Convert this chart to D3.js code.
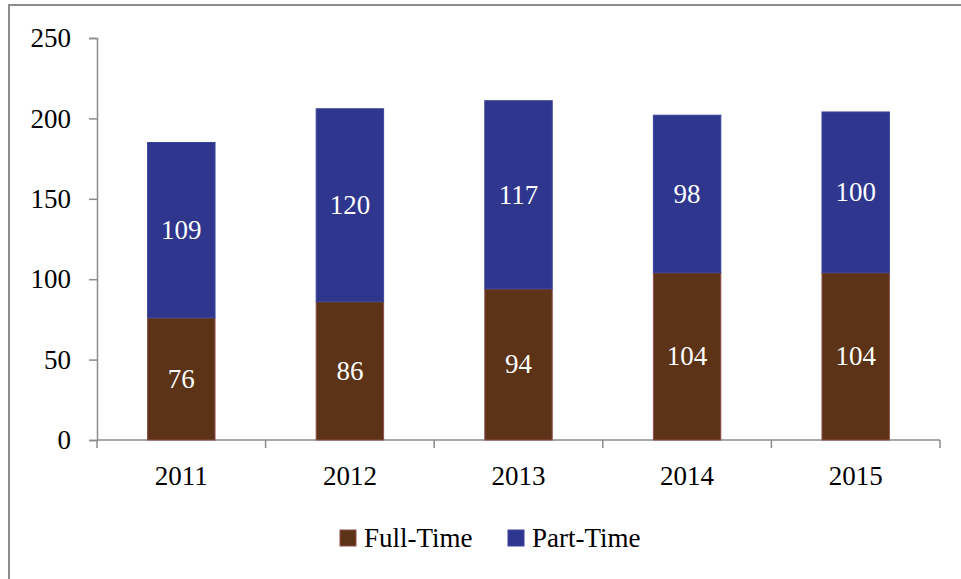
<!DOCTYPE html>
<html>
<head>
<meta charset="utf-8">
<script src="https://cdn.jsdelivr.net/npm/d3@7"></script>
<style>
  body { margin: 0; background: #fff; }
</style>
</head>
<body>
<div id="chart"></div>
<script>
// data
var years = ['2011', '2012', '2013', '2014', '2015'];
var fullTime = [76, 86, 94, 104, 104];
var partTime = [109, 120, 117, 98, 100];
var seriesNames = ['Full-Time', 'Part-Time'];
var seriesColors = ['#5C3317', '#2E368E'];
var seriesStroke = ['#8E4F4A', '#3A4399'];
var yTicks = [0, 50, 100, 150, 200, 250];

var width = 961, height = 579;
var plot = {left: 97, right: 940, top: 38, bottom: 440};
var fontFam = "'Liberation Serif', 'DejaVu Serif', serif";

var svg = d3.select("#chart")
    .append("svg")
    .attr("width", width)
    .attr("height", height)
    .style("font-family", fontFam);

// outer frame
svg.append("rect")
    .attr("x", 9).attr("y", 5)
    .attr("width", 965).attr("height", 590)
    .style("fill", "none")
    .style("stroke", "#8c8c8c")
    .style("stroke-width", 2);

var x = d3.scaleBand()
    .domain(years)
    .range([plot.left, plot.right])
    .paddingInner(0.6)
    .paddingOuter(0.3);

var y = d3.scaleLinear()
    .domain([0, 250])
    .range([plot.bottom, plot.top]);

// y axis
var yAxis = svg.append("g")
    .attr("transform", "translate(" + plot.left + ",0)")
    .call(d3.axisLeft(y).tickValues(yTicks).tickSize(8).tickPadding(18));
yAxis.attr("font-family", null).attr("font-size", null);
yAxis.selectAll("text").style("font-size", "27px").style("font-family", fontFam).style("fill", "#000");
yAxis.selectAll("line, path").style("stroke", "#8c8c8c").style("stroke-width", 1.5);

// x axis: ticks at band boundaries
var xLine = svg.append("g");
xLine.append("line")
    .attr("x1", plot.left).attr("x2", plot.right)
    .attr("y1", plot.bottom).attr("y2", plot.bottom)
    .style("stroke", "#8c8c8c").style("stroke-width", 1.5);
var step = (plot.right - plot.left) / years.length;
xLine.selectAll("line.tk")
    .data(d3.range(years.length + 1))
    .enter()
    .append("line")
    .attr("class", "tk")
    .attr("x1", function(d){return plot.left + d * step;})
    .attr("x2", function(d){return plot.left + d * step;})
    .attr("y1", plot.bottom)
    .attr("y2", plot.bottom + 8)
    .style("stroke", "#8c8c8c").style("stroke-width", 1.5);
xLine.selectAll("text")
    .data(years)
    .enter()
    .append("text")
    .attr("x", function(d){return x(d) + x.bandwidth() / 2;})
    .attr("y", 485)
    .attr("text-anchor", "middle")
    .style("font-size", "27px")
    .style("font-family", fontFam)
    .text(function(d){return d;});

// stacked bars
var rows = years.map(function(yr, i){ return {year: yr, 'Full-Time': fullTime[i], 'Part-Time': partTime[i]}; });
var stacked = d3.stack().keys(seriesNames)(rows);

stacked.forEach(function(layer, li) {
    var g = svg.append("g");
    g.selectAll("rect")
        .data(layer)
        .enter()
        .append("rect")
        .attr("x", function(d){return x(d.data.year);})
        .attr("y", function(d){return y(d[1]);})
        .attr("width", x.bandwidth())
        .attr("height", function(d){return y(d[0]) - y(d[1]);})
        .style("fill", seriesColors[li])
        .style("stroke", seriesStroke[li])
        .style("stroke-width", 1);
    g.selectAll("text")
        .data(layer)
        .enter()
        .append("text")
        .attr("x", function(d){return x(d.data.year) + x.bandwidth() / 2;})
        .attr("y", function(d){return (y(d[0]) + y(d[1])) / 2 + 9;})
        .attr("text-anchor", "middle")
        .style("font-size", "27px")
        .style("font-family", fontFam)
        .style("fill", "#fff")
        .text(function(d){return d[1] - d[0];});
});

// legend
var legendX = [340, 508];
var legend = svg.selectAll("g.legend")
    .data(seriesNames)
    .enter()
    .append("g")
    .attr("class", "legend")
    .attr("transform", function(d, i){return "translate(" + legendX[i] + ",530)";});
legend.append("rect")
    .attr("width", 16).attr("height", 16)
    .style("fill", function(d, i){return seriesColors[i];})
    .style("stroke", function(d, i){return seriesStroke[i];});
legend.append("text")
    .attr("x", 24).attr("y", 17)
    .style("font-size", "27px")
    .style("font-family", fontFam)
    .text(function(d){return d;});
</script>
</body>
</html>
